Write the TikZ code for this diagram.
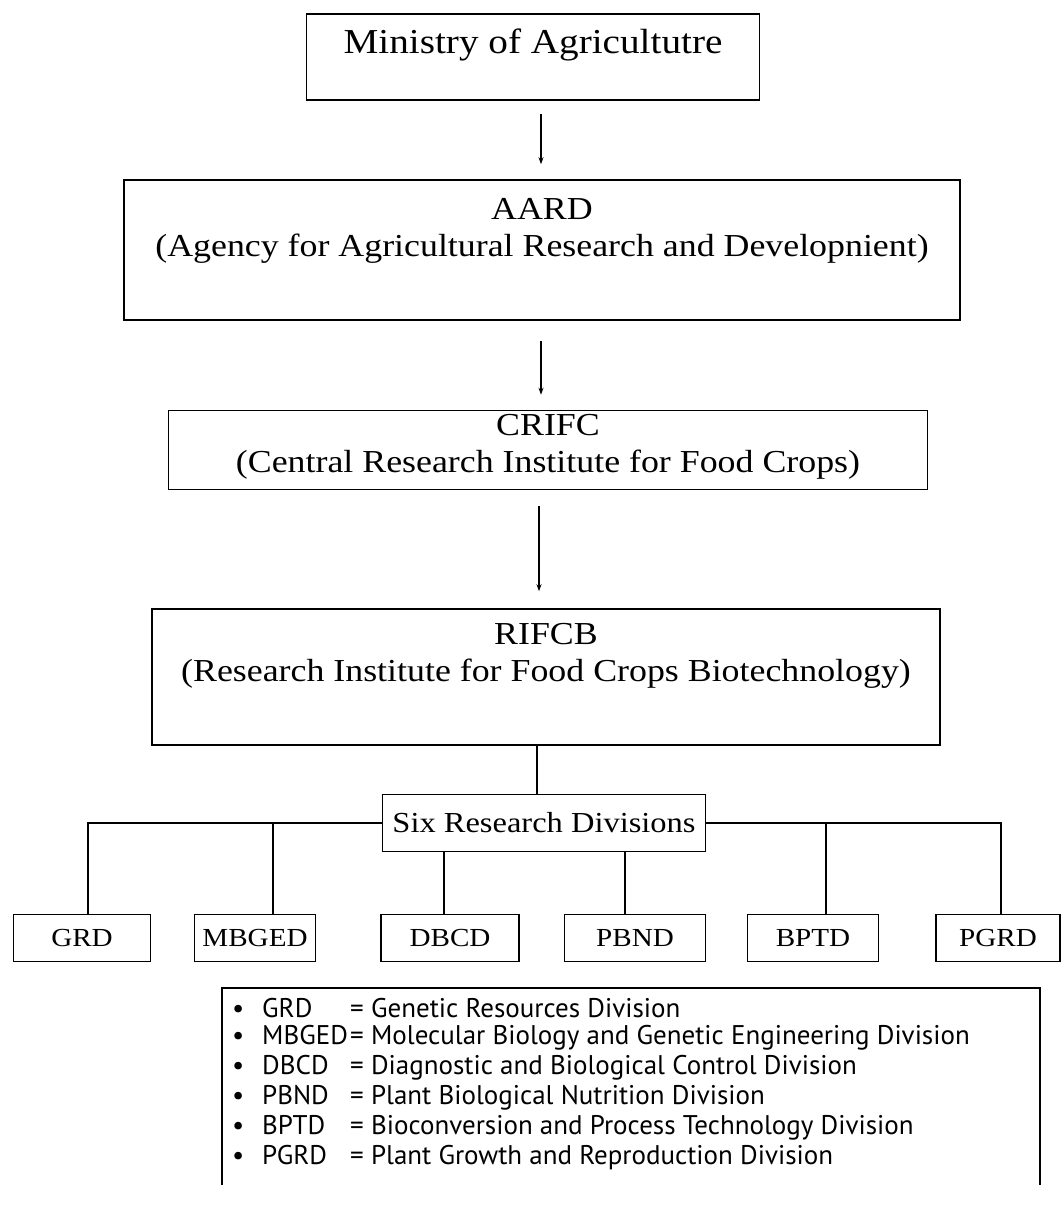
\documentclass[tikz,border=0pt]{standalone}
\usepackage{fontspec}
\setmainfont{Liberation Serif}
\newfontfamily\boxfont[FakeStretch=1.12]{Liberation Serif}
\newfontfamily\legendfont{PT Sans}
\usetikzlibrary{arrows.meta}
\begin{document}
\begin{tikzpicture}[x=1pt,y=-1pt,
  box/.style={draw, line width=1.6pt, inner sep=0pt},
  conn/.style={line width=2pt},
  arr/.style={line width=2pt, -{Stealth[length=7pt,width=5pt]}},
  bigtext/.style={font=\boxfont\fontsize{32}{37}\selectfont, inner sep=0pt, align=center},
  divtext/.style={font=\boxfont\fontsize{26}{30}\selectfont, inner sep=0pt},
  divbox/.style={box, minimum height=47pt},
  legtext/.style={font=\legendfont\fontsize{27}{30}\selectfont, inner sep=0pt, anchor=west}]
\useasboundingbox (0,0) rectangle (1064,1220);

% top chain
\node[box, minimum width=453pt, minimum height=86pt] (min) at (533,57) {};
\node[bigtext, font=\boxfont\fontsize{35}{40}\selectfont] (mint) at (533,45) {Ministry of Agricultutre};

\node[box, minimum width=836pt, minimum height=140pt] (aard) at (542,250) {};
\node[bigtext] (aardt) at (542,231) {AARD\\(Agency for Agricultural Research and Developnient)};

\node[box, minimum width=759pt, minimum height=79pt] (crifc) at (548,450) {};
\node[bigtext] (crifct) at (548,447) {CRIFC\\(Central Research Institute for Food Crops)};

\node[box, minimum width=788pt, minimum height=136pt] (rifcb) at (546,677) {};
\node[bigtext] (rifcbt) at (546,656) {RIFCB\\(Research Institute for Food Crops Biotechnology)};

\draw[arr, shorten <=13pt, shorten >=15pt] (min.south -| 541,0) -- (aard.north -| 541,0);
\draw[arr, shorten <=20pt, shorten >=15pt] (aard.south -| 541,0) -- (crifc.north -| 541,0);
\draw[arr, shorten <=16pt, shorten >=17pt] (crifc.south -| 539,0) -- (rifcb.north -| 539,0);

% six research divisions
\node[box, minimum width=323pt, minimum height=57pt, divtext, font=\boxfont\fontsize{29}{32}\selectfont] (six) at (544,823) {Six Research Divisions};
\draw[conn] (rifcb.south -| 537,0) -- (six.north -| 537,0);

% division boxes
\node[divbox, minimum width=137pt, divtext] (grd) at (82,938) {GRD};
\node[divbox, minimum width=121pt, divtext] (mbged) at (255,938) {MBGED};
\node[divbox, minimum width=138pt, divtext] (dbcd) at (450,938) {DBCD};
\node[divbox, minimum width=141pt, divtext] (pbnd) at (635,938) {PBND};
\node[divbox, minimum width=131pt, divtext] (bptd) at (813,938) {BPTD};
\node[divbox, minimum width=124pt, divtext] (pgrd) at (998,938) {PGRD};

\coordinate (bl) at (88,823);
\coordinate (bm) at (273,823);
\coordinate (bb) at (826,823);
\coordinate (br) at (1001,823);

\draw[conn] (six.west) -- (bl) -- (bl |- grd.north);
\draw[conn] (bm) -- (bm |- mbged.north);
\draw[conn] (six.east) -- (br) -- (br |- pgrd.north);
\draw[conn] (bb) -- (bb |- bptd.north);
\draw[conn] (six.south -| 444,0) -- (dbcd.north -| 444,0);
\draw[conn] (six.south -| 625,0) -- (pbnd.north -| 625,0);

% legend
\coordinate (lgtl) at (222,988);
\coordinate (lgtr) at (1040,988);
\coordinate (lgbl) at (222,1185);
\coordinate (lgbr) at (1040,1185);
\draw[line width=1.4pt] (lgbl) -- (lgtl) -- (lgtr) -- (lgbr);

\newcommand{\legline}[2]{\makebox[30pt][l]{\textbullet}\makebox[88pt][l]{#1}#2}
\node[legtext] (l1) at (232,1008) {\legline{GRD}{= Genetic Resources Division}};
\node[legtext] (l2) at (232,1038) {\legline{MBGED}{= Molecular Biology and Genetic Engineering Division}};
\node[legtext] (l3) at (232,1068) {\legline{DBCD}{= Diagnostic and Biological Control Division}};
\node[legtext] (l4) at (232,1098) {\legline{PBND}{= Plant Biological Nutrition Division}};
\node[legtext] (l5) at (232,1128) {\legline{BPTD}{= Bioconversion and Process Technology Division}};
\node[legtext] (l6) at (232,1158) {\legline{PGRD}{= Plant Growth and Reproduction Division}};
\end{tikzpicture}
\end{document}
